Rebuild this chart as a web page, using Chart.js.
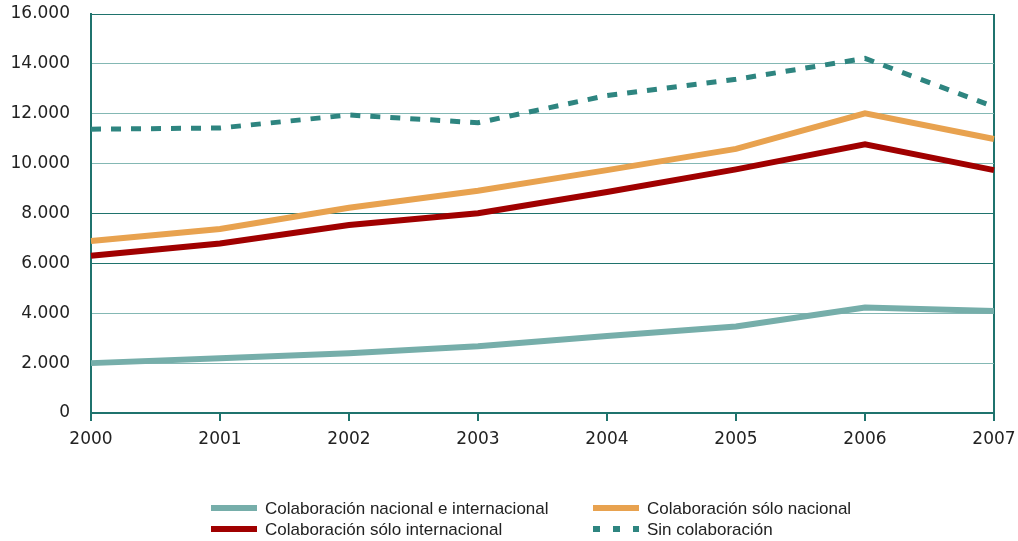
<!DOCTYPE html>
<html>
<head>
<meta charset="utf-8">
<script src="https://cdn.jsdelivr.net/npm/chart.js@4.4.0/dist/chart.umd.min.js"></script>
<style>
html,body{margin:0;padding:0;background:#fff;}
#wrap{width:1018px;height:541px;position:relative;}
</style>
</head>
<body>
<div id="wrap"><canvas id="c" width="1018" height="541"></canvas></div>
<script>
const years = ['2000','2001','2002','2003','2004','2005','2006','2007'];
const nacionalEInternacional = [2000, 2200, 2400, 2680, 3090, 3470, 4230, 4090];
const soloNacional = [6900, 7380, 8230, 8910, 9740, 10590, 12020, 10990];
const soloInternacional = [6310, 6800, 7540, 8010, 8860, 9770, 10770, 9740];
const sinColaboracion = [11380, 11430, 11950, 11640, 12730, 13380, 14220, 12280];
const seriesLabels = ['Colaboración nacional e internacional','Colaboración sólo nacional','Colaboración sólo internacional','Sin colaboración'];
const yTicks = [0,2000,4000,6000,8000,10000,12000,14000,16000];

const DARK = '#1f736d';
const LIGHT = '#84b8b4';
const fmt = v => v.toLocaleString('de-DE');

const legendPlugin = {
  id: 'customLegend',
  afterDraw(chart) {
    const ctx = chart.ctx;
    const ds = chart.data.datasets;
    const pos = [
      {sx: 211, tx: 265, y: 508},
      {sx: 593, tx: 647, y: 508},
      {sx: 211, tx: 265, y: 529},
      {sx: 593, tx: 647, y: 529}
    ];
    ctx.save();
    ds.forEach((d, i) => {
      const p = pos[i];
      ctx.strokeStyle = d.borderColor;
      ctx.lineWidth = 6;
      ctx.lineCap = 'butt';
      ctx.setLineDash(d.borderDash && d.borderDash.length ? [7, 13] : []);
      ctx.beginPath();
      ctx.moveTo(p.sx, p.y);
      ctx.lineTo(p.sx + 46, p.y);
      ctx.stroke();
      ctx.setLineDash([]);
      ctx.fillStyle = '#222';
      ctx.font = '17px "Liberation Sans", Arial, sans-serif';
      ctx.textBaseline = 'middle';
      ctx.textAlign = 'left';
      ctx.fillText(d.label, p.tx, p.y + 1);
    });
    ctx.restore();
  }
};

new Chart(document.getElementById('c'), {
  type: 'line',
  data: {
    labels: years,
    datasets: [
      {label: seriesLabels[0], data: nacionalEInternacional, borderColor: '#76aeaa', borderWidth: 6, pointRadius: 0, tension: 0, fill: false},
      {label: seriesLabels[1], data: soloNacional, borderColor: '#e8a24f', borderWidth: 6, pointRadius: 0, tension: 0, fill: false},
      {label: seriesLabels[2], data: soloInternacional, borderColor: '#a00000', borderWidth: 6, pointRadius: 0, tension: 0, fill: false},
      {label: seriesLabels[3], data: sinColaboracion, borderColor: '#2e8580', borderWidth: 5, borderDash: [10, 10], pointRadius: 0, tension: 0, fill: false}
    ]
  },
  options: {
    responsive: false,
    animation: false,
    layout: {padding: {top: 14, right: 24, left: 0, bottom: 0}},
    plugins: {legend: {display: false}, tooltip: {enabled: false}},
    scales: {
      x: {
        offset: false,
        grid: {
          color: c => (c.index === 0 || c.index === years.length - 1) ? DARK : 'rgba(0,0,0,0)',
          lineWidth: 2,
          tickColor: DARK,
          tickLength: 8,
          drawTicks: true
        },
        border: {display: true, color: DARK, width: 2},
        ticks: {
          color: '#222',
          font: {family: '"DejaVu Sans", Verdana, sans-serif', size: 17},
          padding: 8,
          maxRotation: 0,
          autoSkip: false
        },
        afterFit: s => { s.height = 128; s.paddingLeft = 0; s.paddingRight = 0; }
      },
      y: {
        min: 0,
        max: 16000,
        afterBuildTicks: s => { s.ticks = yTicks.map(v => ({value: v})); },
        grid: {
          color: c => ([0, 6000, 8000, 16000].includes(c.tick.value) ? DARK : LIGHT),
          lineWidth: c => (c.tick.value === 0 ? 2 : 1),
          drawTicks: false
        },
        border: {display: true, color: DARK, width: 2},
        ticks: {
          color: '#222',
          font: {family: '"DejaVu Sans", Verdana, sans-serif', size: 17},
          padding: 21,
          callback: v => fmt(v)
        },
        afterFit: s => { s.width = 91; s.paddingTop = 0; s.paddingBottom = 0; }
      }
    }
  },
  plugins: [legendPlugin]
});
</script>
</body>
</html>
